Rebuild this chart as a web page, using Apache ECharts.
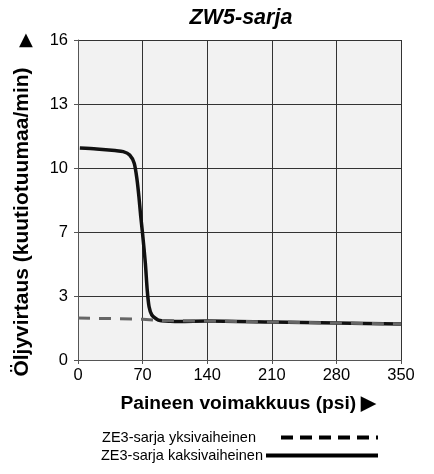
<!DOCTYPE html>
<html><head><meta charset="utf-8">
<script src="https://cdn.jsdelivr.net/npm/echarts@6/dist/echarts.min.js"></script>
<style>html,body{margin:0;padding:0;background:#fff}#c{width:434px;height:474px}</style>
</head><body><div id="c"></div>
<script>
const titleText = 'ZW5-sarja';
const xName = 'Paineen voimakkuus (psi) ▶';
const yName = 'Öljyvirtaus (kuutiotuumaa/min)';
const xTicks = [0, 70, 140, 210, 280, 350];
const yTickLabels = ['0', '3', '7', '10', '13', '16'];
const seriesNames = ['ZE3-sarja yksivaiheinen', 'ZE3-sarja kaksivaiheinen'];

// two-stage (solid)
const xSolid = [2, 20, 40, 49, 56, 61, 64, 66, 68, 70, 73, 75, 77, 80, 85, 89, 100, 110, 140, 210, 280, 350];
const ySolid = [10.6, 10.55, 10.47, 10.42, 10.25, 9.83, 9.0, 8.17, 7.17, 6.3, 4.83, 3.5, 2.67, 2.25, 2.05, 1.97, 1.94, 1.93, 1.95, 1.9, 1.85, 1.8];
// single-stage (dashed)
const xDash = [0, 70, 90, 140, 210, 280, 350];
const yDash = [2.1, 2.04, 1.97, 1.95, 1.9, 1.85, 1.8];

const FONT = 'Liberation Sans, Arial, sans-serif';
const chart = echarts.init(document.getElementById('c'), null, {renderer: 'canvas'});
const gridColor = '#333';
chart.setOption({
  animation: false,
  textStyle: {fontFamily: FONT},
  title: [
    {text: titleText, left: 236, top: 2, textAlign: 'center',
     textStyle: {fontFamily: FONT, fontSize: 21.5, fontWeight: 'bold', fontStyle: 'italic', color: '#000'}},
    {text: '▲', left: 14, top: 26, textStyle: {fontFamily: 'DejaVu Sans', fontSize: 18, fontWeight: 'normal', color: '#000'}}
  ],
  grid: {left: 78, right: 33, top: 40, bottom: 114, show: true, backgroundColor: '#f2f2f2', borderWidth: 0,
         containLabel: false, outerBoundsMode: 'none'},
  legend: [
    {data: [{name: seriesNames[0], lineStyle: {color: '#000', width: 4, type: [12, 7]}, itemStyle: {opacity: 0}}],
     orient: 'vertical', right: 54, top: 430, padding: 0, align: 'right',
     itemWidth: 97, itemHeight: 14,
     textStyle: {fontFamily: FONT, fontSize: 14.5, color: '#000', padding: [0, 20, 0, 0]}},
    {data: [{name: seriesNames[1], lineStyle: {color: '#000', width: 4}, itemStyle: {opacity: 0}}],
     orient: 'vertical', right: 54, top: 448, padding: 0, align: 'right',
     itemWidth: 112, itemHeight: 14,
     textStyle: {fontFamily: FONT, fontSize: 14.5, color: '#000', padding: [0, -2, 0, 0]}}
  ],
  xAxis: {
    type: 'value', min: xTicks[0], max: xTicks[xTicks.length - 1], interval: 70,
    name: xName, nameLocation: 'middle', nameGap: 34,
    nameTextStyle: {fontFamily: FONT, fontSize: 19.2, fontWeight: 'bold', color: '#000', padding: [0, 0, 0, 18]},
    axisLine: {show: true, lineStyle: {color: '#555', width: 1}},
    axisTick: {show: true, length: 4, lineStyle: {color: '#555'}},
    axisLabel: {fontFamily: FONT, fontSize: 16.5, color: '#000', margin: 7},
    splitLine: {show: true, lineStyle: {color: gridColor, width: 1}}
  },
  yAxis: {
    type: 'value', min: 0, max: 16, interval: 3.2,
    name: yName, nameLocation: 'middle', nameGap: 45,
    nameTextStyle: {fontFamily: FONT, fontSize: 21, fontWeight: 'bold', color: '#000', padding: [0, 44, 0, 0]},
    axisLine: {show: true, lineStyle: {color: '#555', width: 1}},
    axisTick: {show: true, length: 4, lineStyle: {color: '#555'}},
    axisLabel: {fontFamily: FONT, fontSize: 16.5, color: '#000', margin: 10,
      formatter: function (v) { const i = Math.round(v / 3.2); return yTickLabels[i] !== undefined ? yTickLabels[i] : ''; }},
    splitLine: {show: true, lineStyle: {color: gridColor, width: 1}}
  },
  series: [
    {name: seriesNames[1], type: 'line', symbol: 'none', smooth: 0.25, z: 2,
     data: xSolid.map((x, i) => [x, ySolid[i]]),
     lineStyle: {color: '#111', width: 3.5}},
    {name: seriesNames[0], type: 'line', symbol: 'none', z: 3,
     data: xDash.map((x, i) => [x, yDash[i]]),
     lineStyle: {color: '#666', width: 3, type: [12, 9]}}
  ]
});
</script></body></html>
